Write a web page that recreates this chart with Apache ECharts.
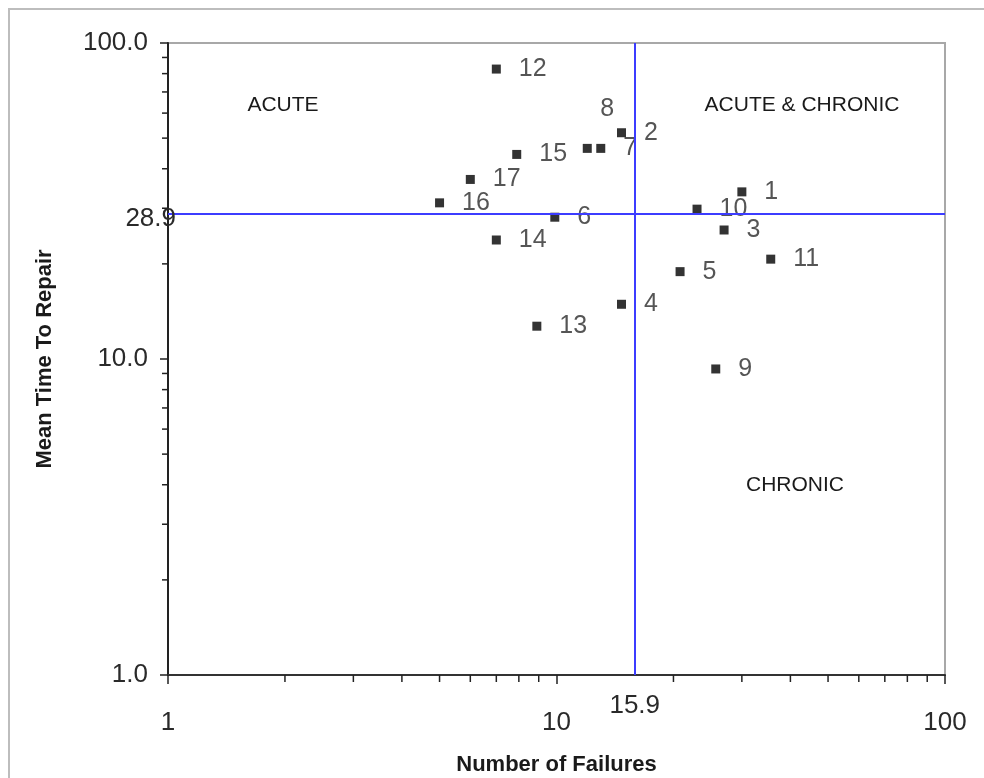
<!DOCTYPE html>
<html>
<head>
<meta charset="utf-8">
<script src="https://cdn.jsdelivr.net/npm/echarts@6/dist/echarts.min.js"></script>
<style>
  html, body { margin: 0; padding: 0; background: #fff; }
  #main { width: 984px; height: 778px; }
</style>
</head>
<body>
<div id="main"></div>
<script>
// equipment ids, failure counts and mean time to repair (hours)
var ids = ['1', '2', '3', '4', '5', '6', '7', '8', '9', '10', '11', '12', '13', '14', '15', '16', '17'];
var failures = [30, 14.7, 27, 14.7, 20.8, 9.9, 13, 12, 25.7, 23, 35.6, 7, 8.9, 7, 7.9, 5, 6];
var mttr = [33.8, 52.0, 25.6, 14.9, 18.9, 28.1, 46.4, 46.4, 9.3, 29.8, 20.7, 82.7, 12.7, 23.8, 44.4, 31.2, 37.0];

// averages used as quadrant dividers
var meanFailures = 15.9;
var meanMttr = 28.9;

// minor ticks on the log axes
var xMinor = [2, 3, 4, 5, 6, 7, 8, 9, 20, 30, 40, 50, 60, 70, 80, 90];
var yMinor = [2, 3, 4, 5, 6, 7, 8, 9, 20, 30, 40, 50, 60, 70, 80, 90];

var FONT = '"Liberation Sans", Arial, sans-serif';

var points = ids.map(function (id, i) {
    var item = { name: id, value: [failures[i], mttr[i]] };
    if (id === '8') {
        item.label = { position: 'top', offset: [20, -4] };
    }
    return item;
});

var chart = echarts.init(document.getElementById('main'));
var option = {
    animation: false,
    graphic: [
        {
            type: 'rect',
            shape: { x: 9, y: 9, width: 1100, height: 1100 },
            style: { fill: 'none', stroke: '#bdbdbd', lineWidth: 2 },
            z: -10
        },
        {
            type: 'text', x: 283, y: 105,
            style: { text: 'ACUTE', font: '21px ' + FONT, fill: '#1a1a1a', align: 'center', verticalAlign: 'middle' }
        },
        {
            type: 'text', x: 802, y: 105,
            style: { text: 'ACUTE & CHRONIC', font: '21px ' + FONT, fill: '#1a1a1a', align: 'center', verticalAlign: 'middle' }
        },
        {
            type: 'text', x: 795, y: 485,
            style: { text: 'CHRONIC', font: '21px ' + FONT, fill: '#1a1a1a', align: 'center', verticalAlign: 'middle' }
        }
    ],
    grid: {
        left: 168,
        right: 39,
        top: 43,
        bottom: 103,
        outerBoundsMode: 'none',
        show: true,
        borderColor: '#a8a8a8',
        borderWidth: 2,
        backgroundColor: '#fff'
    },
    xAxis: {
        type: 'log',
        logBase: 10,
        min: 1,
        max: 100,
        name: 'Number of Failures',
        nameLocation: 'middle',
        nameGap: 79,
        nameTextStyle: { fontFamily: FONT, fontSize: 22, fontWeight: 'bold', color: '#1a1a1a' },
        axisLine: { lineStyle: { color: '#333', width: 2 } },
        axisTick: { length: 9, lineStyle: { color: '#222', width: 1.5 } },
        axisLabel: { margin: 35, fontFamily: FONT, fontSize: 26, color: '#2a2a2a' },
        splitLine: { show: false }
    },
    yAxis: {
        type: 'log',
        logBase: 10,
        min: 1,
        max: 100,
        name: 'Mean Time To Repair',
        nameLocation: 'middle',
        nameRotate: 90,
        nameGap: 112,
        nameTextStyle: { fontFamily: FONT, fontSize: 22, fontWeight: 'bold', color: '#1a1a1a' },
        axisLine: { lineStyle: { color: '#222', width: 2 } },
        axisTick: { length: 8, lineStyle: { color: '#222', width: 1.5 } },
        axisLabel: {
            margin: 20,
            fontFamily: FONT,
            fontSize: 26,
            color: '#2a2a2a',
            formatter: function (v) { return Number(v).toFixed(1); }
        },
        splitLine: { show: false }
    },
    series: [
        {
            type: 'scatter',
            symbol: 'rect',
            symbolSize: 9,
            itemStyle: { color: '#000' },
            data: points,
            label: {
                show: true,
                position: 'right',
                distance: 18,
                formatter: '{b}',
                fontFamily: FONT,
                fontSize: 25,
                color: '#2a2a2a'
            },
            markLine: {
                silent: true,
                symbol: 'none',
                lineStyle: { color: '#3c3cff', width: 2, type: 'solid' },
                label: { formatter: '{b}', fontFamily: FONT, fontSize: 26, color: '#2a2a2a' },
                data: [
                    { name: String(meanFailures), xAxis: meanFailures, label: { position: 'start', distance: 18 } },
                    { name: String(meanMttr), yAxis: meanMttr, label: { position: 'start', distance: -8, offset: [0, 5] } }
                ]
            },
            z: 3
        },
        {
            type: 'custom',
            silent: true,
            data: xMinor.map(function (v) { return [v, 1]; }),
            renderItem: function (params, api) {
                var p = api.coord([api.value(0), api.value(1)]);
                return {
                    type: 'line',
                    shape: { x1: p[0], y1: p[1], x2: p[0], y2: p[1] + 7 },
                    style: { stroke: '#222', lineWidth: 1.5 }
                };
            }
        },
        {
            type: 'custom',
            silent: true,
            data: yMinor.map(function (v) { return [1, v]; }),
            renderItem: function (params, api) {
                var p = api.coord([api.value(0), api.value(1)]);
                return {
                    type: 'line',
                    shape: { x1: p[0] - 6, y1: p[1], x2: p[0], y2: p[1] },
                    style: { stroke: '#222', lineWidth: 1.5 }
                };
            }
        }
    ]
};
chart.setOption(option);
</script>
</body>
</html>
